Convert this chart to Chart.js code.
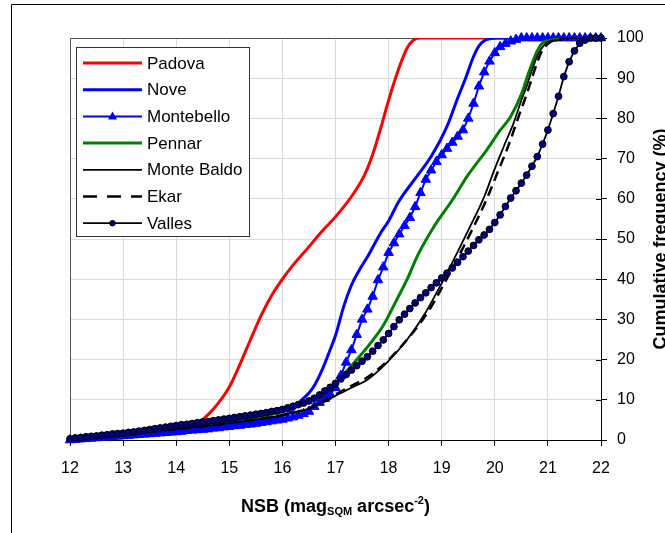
<!DOCTYPE html>
<html>
<head>
<meta charset="utf-8">
<script src="https://cdn.jsdelivr.net/npm/chart.js@4"></script>
<style>
  html, body { margin: 0; padding: 0; background: #fff; }
  canvas { display: block; }
</style>
</head>
<body>
<canvas id="c" width="665" height="533"></canvas>
<script>
// ---------- DATA ----------
const seriesNames = ["Padova", "Nove", "Montebello", "Pennar", "Monte Baldo", "Ekar", "Valles"];

const padovaX = [12, 13, 14, 14.3, 14.45, 14.6, 14.8, 15.0, 15.2, 15.4, 15.6, 15.8, 16.0, 16.2, 16.45, 16.75, 17.0, 17.35, 17.55, 17.7, 17.85, 18.0, 18.2, 18.35, 18.45, 18.6, 22];
const padovaY = [0.3, 1.6, 3.2, 3.9, 4.6, 6.3, 9.3, 13.2, 18.8, 25.0, 31.0, 36.0, 40.0, 43.5, 47.3, 52.0, 55.5, 61.5, 66.0, 71.0, 77.5, 84.5, 92.7, 97.5, 99.3, 100, 100];

const noveX = [12, 13, 14, 15, 15.5, 16, 16.2, 16.35, 16.5, 16.6, 16.75, 16.9, 17.0, 17.15, 17.3, 17.45, 17.6, 17.85, 18.0, 18.2, 18.5, 18.8, 19.1, 19.3, 19.45, 19.6, 19.7, 19.8, 19.9, 20.05, 22];
const noveY = [0.2, 1.4, 2.5, 3.9, 4.8, 6.0, 7.5, 9.8, 11.7, 13.5, 17.5, 22.5, 26.0, 33.0, 38.5, 42.3, 45.5, 51.5, 54.5, 59.5, 65.0, 70.5, 78.0, 85.0, 90.0, 95.4, 98.0, 99.3, 99.8, 100, 100];

// NSB bins of 0.1 mag used by the two marker series
const nsbBins = [12.0, 12.1, 12.2, 12.3, 12.4, 12.5, 12.6, 12.7, 12.8, 12.9,
  13.0, 13.1, 13.2, 13.3, 13.4, 13.5, 13.6, 13.7, 13.8, 13.9,
  14.0, 14.1, 14.2, 14.3, 14.4, 14.5, 14.6, 14.7, 14.8, 14.9,
  15.0, 15.1, 15.2, 15.3, 15.4, 15.5, 15.6, 15.7, 15.8, 15.9,
  16.0, 16.1, 16.2, 16.3, 16.4, 16.5, 16.6, 16.7, 16.8, 16.9,
  17.0, 17.1, 17.2, 17.3, 17.4, 17.5, 17.6, 17.7, 17.8, 17.9,
  18.0, 18.1, 18.2, 18.3, 18.4, 18.5, 18.6, 18.7, 18.8, 18.9,
  19.0, 19.1, 19.2, 19.3, 19.4, 19.5, 19.6, 19.7, 19.8, 19.9,
  20.0, 20.1, 20.2, 20.3, 20.4, 20.5, 20.6, 20.7, 20.8, 20.9,
  21.0, 21.1, 21.2, 21.3, 21.4, 21.5, 21.6, 21.7, 21.8, 21.9, 22.0];

const montebelloY = [0.0, 0.1, 0.2, 0.3, 0.4, 0.5, 0.6, 0.7, 0.8, 0.9,
  1.0, 1.1, 1.2, 1.3, 1.4, 1.5, 1.6, 1.7, 1.8, 1.9,
  2.0, 2.1, 2.3, 2.4, 2.5, 2.6, 2.7, 2.9, 3.0, 3.2,
  3.3, 3.5, 3.6, 3.8, 3.9, 4.1, 4.3, 4.5, 4.7, 4.9,
  5.1, 5.4, 5.7, 6.1, 6.5, 7.1, 8.3, 9.3, 10.3, 11.4,
  13.0, 16.0, 19.3, 22.4, 26.2, 30.0, 32.5, 35.7, 39.8, 43.0,
  46.6, 49.0, 51.2, 53.3, 55.3, 58.0, 61.5, 64.8, 67.1, 69.2,
  70.9, 72.5, 74.0, 75.5, 77.1, 80.0, 83.7, 88.0, 91.5, 94.2,
  96.3, 97.8, 98.6, 99.2, 99.6, 100, 100, 100, 100, 100,
  100, 100, 100, 100, 100, 100, 100, 100, 100, 100, 100];

const vallesY = [0.3, 0.5, 0.6, 0.8, 0.9, 1.0, 1.2, 1.3, 1.5, 1.6,
  1.7, 1.9, 2.0, 2.2, 2.4, 2.6, 2.8, 3.0, 3.2, 3.4,
  3.6, 3.8, 3.9, 4.1, 4.3, 4.5, 4.6, 4.8, 5.0, 5.2,
  5.4, 5.6, 5.8, 6.0, 6.2, 6.4, 6.6, 6.8, 7.1, 7.3,
  7.6, 8.0, 8.4, 8.8, 9.2, 9.7, 10.4, 11.2, 12.2, 13.1,
  14.1, 15.2, 16.3, 17.4, 18.5, 19.6, 20.7, 22.1, 23.5, 24.9,
  26.5, 28.2, 29.9, 31.3, 32.7, 34.1, 35.4, 36.6, 37.9, 39.1,
  40.3, 41.5, 42.8, 44.2, 45.6, 47.0, 48.4, 49.8, 51.0, 52.4,
  54.1, 56.0, 58.1, 60.2, 62.0, 63.9, 65.9, 68.1, 70.5, 73.6,
  77.1, 81.2, 85.5, 90.4, 94.1, 96.8, 98.7, 99.5, 100, 100, 100];

const pennarX = [12, 13, 14, 15, 16, 16.3, 16.6, 16.9, 17.1, 17.3, 17.5, 17.7, 17.9, 18.15, 18.35, 18.55, 18.85, 19.2, 19.5, 19.85, 20.1, 20.3, 20.5, 20.65, 20.8, 20.9, 21.05, 21.3, 22];
const pennarY = [0.2, 1.5, 3.0, 4.6, 7.0, 8.5, 10.5, 13.2, 15.5, 18.5, 21.5, 24.8, 28.5, 34.8, 40.0, 46.0, 53.0, 59.7, 66.0, 72.2, 77.0, 80.5, 86.0, 91.8, 96.8, 98.8, 99.4, 100, 100];

const monteBaldoX = [12, 13, 14, 15, 16, 16.5, 16.8, 17.0, 17.3, 17.6, 17.95, 18.35, 18.7, 19.0, 19.3, 19.55, 19.8, 20.0, 20.2, 20.35, 20.5, 20.6, 20.7, 20.8, 20.95, 21.2, 21.5, 22];
const monteBaldoY = [0.2, 1.4, 2.7, 4.2, 6.2, 7.8, 9.5, 11.0, 13.0, 15.0, 19.0, 25.0, 31.8, 39.0, 46.8, 53.5, 60.5, 67.5, 74.0, 78.7, 84.5, 88.0, 92.0, 95.5, 98.5, 99.5, 100, 100];

const ekarX = [12, 13, 14, 15, 16, 16.5, 16.8, 17.0, 17.3, 17.6, 17.95, 18.35, 18.75, 19.05, 19.35, 19.6, 19.85, 20.05, 20.25, 20.45, 20.6, 20.7, 20.8, 20.9, 21.05, 21.25, 21.5, 22];
const ekarY = [0.2, 1.4, 2.7, 4.2, 6.2, 7.9, 9.8, 11.3, 13.5, 15.6, 19.3, 25.0, 32.0, 39.0, 46.5, 53.0, 60.0, 66.5, 73.0, 80.5, 86.0, 90.0, 94.0, 97.0, 99.0, 99.7, 100, 100];

const xTickValues = [12, 13, 14, 15, 16, 17, 18, 19, 20, 21, 22];
const yTickValues = [0, 10, 20, 30, 40, 50, 60, 70, 80, 90, 100];
const xTitleParts = ["NSB (mag", "SQM", " arcsec", "-2", ")"];
const yTitle = "Cumulative frequency (%)";

// ---------- BUILD ----------
const pts = (xs, ys) => xs.map((x, i) => ({ x: x, y: ys[i] }));
const FONT = '"Liberation Sans", Arial, sans-serif';

const datasets = [
  { label: seriesNames[0], data: pts(padovaX, padovaY), borderColor: '#FF0000', borderWidth: 3, pointRadius: 0, order: 6, cubicInterpolationMode: 'monotone' },
  { label: seriesNames[1], data: pts(noveX, noveY), borderColor: '#0000FF', borderWidth: 3, pointRadius: 0, order: 5, cubicInterpolationMode: 'monotone' },
  { label: seriesNames[2], data: pts(nsbBins, montebelloY), borderColor: '#0000FF', backgroundColor: '#0000FF', borderWidth: 2,
    pointStyle: 'triangle', pointRadius: 5.5, pointBorderWidth: 1, pointBorderColor: '#0000FF', pointBackgroundColor: '#0000FF', order: 4, clip: false },
  { label: seriesNames[3], data: pts(pennarX, pennarY), borderColor: '#008000', borderWidth: 3, pointRadius: 0, order: 3, cubicInterpolationMode: 'monotone' },
  { label: seriesNames[4], data: pts(monteBaldoX, monteBaldoY), borderColor: '#000000', borderWidth: 1.8, pointRadius: 0, order: 2, cubicInterpolationMode: 'monotone' },
  { label: seriesNames[5], data: pts(ekarX, ekarY), borderColor: '#000000', borderWidth: 2.5, borderDash: [10, 6], pointRadius: 0, order: 1, cubicInterpolationMode: 'monotone' },
  { label: seriesNames[6], data: pts(nsbBins, vallesY), borderColor: '#000000', borderWidth: 1.8,
    pointStyle: 'circle', pointRadius: 3.4, pointBorderWidth: 1, pointBorderColor: '#000000', pointBackgroundColor: '#000080', order: 0, clip: false }
];

const decorPlugin = {
  id: 'decor',
  beforeDatasetsDraw(chart) {
    const { ctx, chartArea: a } = chart;
    ctx.save();
    // plot-area border (left & top)
    ctx.strokeStyle = '#555';
    ctx.lineWidth = 1;
    ctx.beginPath();
    ctx.moveTo(Math.round(a.left) + 0.5, a.bottom);
    ctx.lineTo(Math.round(a.left) + 0.5, Math.round(a.top) + 0.5);
    ctx.lineTo(a.right, Math.round(a.top) + 0.5);
    ctx.stroke();
    // inner tick marks on right axis
    const ys = chart.scales.y;
    ctx.strokeStyle = '#000';
    ctx.beginPath();
    ys.ticks.forEach(t => {
      const py = Math.round(ys.getPixelForValue(t.value)) + 0.5;
      ctx.moveTo(a.right - 5, py);
      ctx.lineTo(a.right, py);
    });
    ctx.stroke();
    ctx.restore();
  },
  afterDraw(chart) {
    const { ctx, chartArea: a } = chart;
    ctx.save();
    // outer frame (left & top visible)
    ctx.strokeStyle = '#000';
    ctx.lineWidth = 1;
    ctx.beginPath();
    ctx.moveTo(11.5, 533);
    ctx.lineTo(11.5, 4.5);
    ctx.lineTo(665, 4.5);
    ctx.stroke();

    // legend
    const lx = 76.5, ly = 47.5, lw = 173, lh = 189;
    ctx.fillStyle = '#fff';
    ctx.fillRect(lx, ly, lw, lh);
    ctx.strokeStyle = '#333';
    ctx.strokeRect(lx, ly, lw, lh);
    const ds = chart.data.datasets;
    ds.forEach((d, i) => {
      const cy = 63 + i * 26.7;
      ctx.save();
      ctx.strokeStyle = d.borderColor;
      ctx.lineWidth = d.borderWidth;
      ctx.setLineDash(d.borderDash ? [14, 10] : []);
      ctx.beginPath();
      ctx.moveTo(83, cy);
      ctx.lineTo(142, cy);
      ctx.stroke();
      ctx.restore();
      if (d.pointStyle === 'triangle') {
        ctx.fillStyle = d.pointBackgroundColor;
        ctx.beginPath();
        ctx.moveTo(112.5, cy - 5);
        ctx.lineTo(117, cy + 3);
        ctx.lineTo(108, cy + 3);
        ctx.closePath();
        ctx.fill();
      } else if (d.pointStyle === 'circle') {
        ctx.fillStyle = d.pointBackgroundColor;
        ctx.strokeStyle = d.pointBorderColor;
        ctx.lineWidth = 1;
        ctx.beginPath();
        ctx.arc(112.5, cy, 2.8, 0, Math.PI * 2);
        ctx.fill();
        ctx.stroke();
      }
      ctx.fillStyle = '#000';
      ctx.font = '17px ' + FONT;
      ctx.textAlign = 'left';
      ctx.textBaseline = 'middle';
      ctx.fillText(d.label, 147, cy + 1);
    });

    // x title with subscript & superscript
    const big = 'bold 18px ' + FONT, small = 'bold 11px ' + FONT;
    const fonts = [big, small, big, small, big];
    const offs = [0, 3, 0, -8, 0];
    let total = 0;
    const widths = xTitleParts.map((p, i) => { ctx.font = fonts[i]; const w = ctx.measureText(p).width; total += w; return w; });
    let x = (a.left + a.right) / 2 - total / 2;
    const base = 512;
    ctx.fillStyle = '#000';
    ctx.textAlign = 'left';
    ctx.textBaseline = 'alphabetic';
    xTitleParts.forEach((p, i) => {
      ctx.font = fonts[i];
      ctx.fillText(p, x, base + offs[i]);
      x += widths[i];
    });

    // y title (rotated, reading bottom to top)
    ctx.save();
    ctx.translate(666, (a.top + a.bottom) / 2);
    ctx.rotate(-Math.PI / 2);
    ctx.font = big;
    ctx.textAlign = 'center';
    ctx.textBaseline = 'alphabetic';
    ctx.fillText(yTitle, 0, 0);
    ctx.restore();
    ctx.restore();
  }
};

new Chart(document.getElementById('c'), {
  type: 'line',
  data: { datasets: datasets },
  options: {
    responsive: false,
    animation: false,
    devicePixelRatio: 1,
    layout: { padding: { left: 70, top: 38, right: 0, bottom: 0 } },
    plugins: { legend: { display: false }, tooltip: { enabled: false }, title: { display: false } },
    elements: { line: { tension: 0, fill: false } },
    scales: {
      x: {
        type: 'linear', min: 12, max: 22,
        afterBuildTicks: s => { s.ticks = xTickValues.map(v => ({ value: v })); },
        afterFit: s => { s.height = 93; },
        ticks: { color: '#000', font: { family: FONT, size: 16 }, padding: 13, maxRotation: 0 },
        grid: { color: '#d9d9d9', lineWidth: 1, tickColor: '#000', tickLength: 6, drawTicks: true },
        border: { color: '#000', width: 1 }
      },
      y: {
        type: 'linear', position: 'right', min: 0, max: 100,
        afterBuildTicks: s => { s.ticks = yTickValues.map(v => ({ value: v })); },
        afterFit: s => { s.width = 64; },
        ticks: { color: '#000', font: { family: FONT, size: 16 }, padding: 10 },
        grid: { color: '#d9d9d9', lineWidth: 1, tickColor: '#000', tickLength: 6, drawTicks: true },
        border: { color: '#000', width: 1 }
      }
    }
  },
  plugins: [decorPlugin]
});
</script>
</body>
</html>
